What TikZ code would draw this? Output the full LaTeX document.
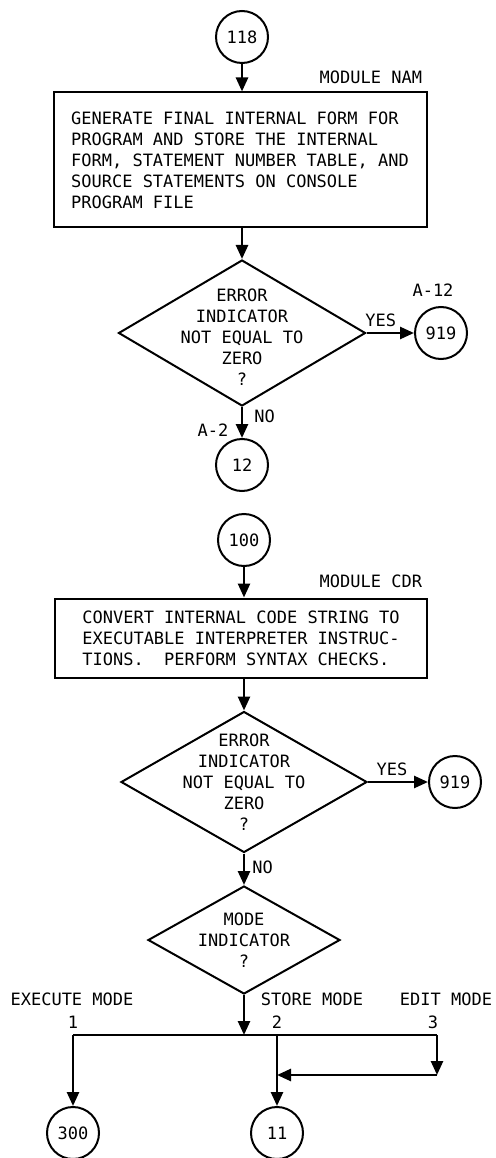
\documentclass[tikz,border=0pt]{standalone}
\usepackage{fontspec}
\setmonofont{DejaVu Sans Mono}
\usetikzlibrary{shapes.geometric,arrows.meta}

\begin{document}
\begin{tikzpicture}[x = 1pt, y = -1pt, line width = 2pt,
	every node/.style = {font=\ttfamily\fontsize{17}{21}\selectfont},
	conn/.style = {draw, circle, minimum size=52, inner sep=0pt},
	proc/.style = {draw, rectangle, align=left, inner sep=0pt},
	decis/.style = {draw, diamond, inner sep=0pt},
	flow/.style = {line width=2.6pt, -{Triangle[length=14pt,width=12pt]}},
	note/.style = {inner sep=1pt},
	edgelbl/.style = {inner sep=5pt}]
	\useasboundingbox (0,0) rectangle (495,1158);
	
	% module NAM
	\node[conn] (c118) at (242,37) {118};
	\node[proc, minimum width=373, minimum height=135] (nam) at (240,160) {GENERATE FINAL INTERNAL FORM FOR\\PROGRAM AND STORE THE INTERNAL\\FORM, STATEMENT NUMBER TABLE, AND\\SOURCE STATEMENTS ON CONSOLE\\PROGRAM FILE};
	\node[note, anchor=east] (namlbl) at (424,77) {MODULE NAM};
	\node[decis, minimum width=247, minimum height=146,
		label={[align=center, yshift=-4pt]center:ERROR\\INDICATOR\\NOT EQUAL TO\\ZERO\\?}] (err1) at (242,333) {};
	\node[conn] (c919a) at (441,333) {919};
	\node[note] (a12) at (433,290) {A-12};
	\node[conn] (c12) at (242,465) {12};
	\node[note] (a2) at (213,430) {A-2};
	
	\draw[flow] (c118.south) -- (c118.south |- nam.north);
	\draw[flow] (nam.south -| err1.north) -- (err1.north);
	\draw[flow] (err1.east) -- node[edgelbl, above, pos=0.3] (yes1) {YES} (c919a.west);
	\draw[flow] (err1.south) -- node[edgelbl, right, pos=0.3, xshift=6pt] (no1) {NO} (c12.north);
	
	% module CDR
	\node[conn] (c100) at (244,540) {100};
	\node[proc, minimum width=372, minimum height=79] (cdr) at (241,638) {CONVERT INTERNAL CODE STRING TO\\EXECUTABLE INTERPRETER INSTRUC-\\TIONS.\ \ PERFORM SYNTAX CHECKS.};
	\node[note, anchor=east] (cdrlbl) at (424,581) {MODULE CDR};
	\node[decis, minimum width=246, minimum height=141,
		label={[align=center]center:ERROR\\INDICATOR\\NOT EQUAL TO\\ZERO\\?}] (err2) at (244,782) {};
	\node[conn] (c919b) at (455,782) {919};
	\node[decis, minimum width=192, minimum height=108,
		label={[align=center]center:MODE\\INDICATOR\\?}] (mode) at (244,940) {};
	
	\draw[flow] (c100.south) -- (c100.south |- cdr.north);
	\draw[flow] (cdr.south -| err2.north) -- (err2.north);
	\draw[flow] (err2.east) -- node[edgelbl, above, pos=0.4] (yes2) {YES} (c919b.west);
	\draw[flow] (err2.south) -- node[edgelbl, right, pos=0.45, xshift=2pt] (no2) {NO} (mode.north);
	
	% mode branches
	\coordinate (split) at (244,1035);
	\coordinate (br1) at (73,1035);
	\coordinate (br2) at (277,1035);
	\coordinate (br3) at (437,1035);
	\coordinate (edj) at (437,1075);
	\node[conn] (c300) at (73,1133) {300};
	\node[conn] (c11) at (277,1133) {11};
	\node[note] (exlbl) at (72,999) {EXECUTE MODE};
	\node[note] (stlbl) at (312,999) {STORE MODE};
	\node[note] (edlbl) at (446,999) {EDIT MODE};
	\node[note] (m1) at (73,1022) {1};
	\node[note] (m2) at (277,1022) {2};
	\node[note] (m3) at (433,1022) {3};
	
	\draw[flow] (mode.south) -- (split);
	\draw[line width=2.6pt] (br1) -- (br3);
	\draw[flow] (br1) -- (c300.north);
	\draw[flow] (br2) -- (c11.north);
	\draw[flow] (br3) -- (edj);
	\draw[flow] (edj) -- (edj -| br2);
	
\end{tikzpicture}
\end{document}
